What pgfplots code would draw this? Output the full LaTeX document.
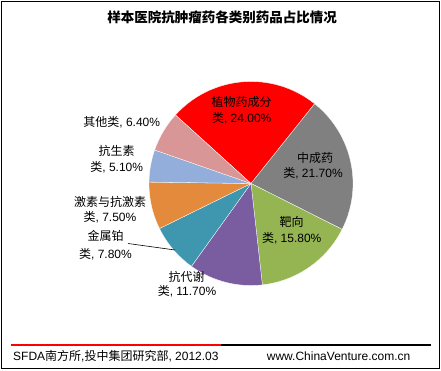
\documentclass[border=0pt]{standalone}
\usepackage{pgfplots}
\pgfplotsset{compat=1.18}
\usepackage{pgfplotstable}
\usepackage{fontspec}
\setmainfont{Liberation Sans}
\newfontfamily\cjk{Noto Sans CJK SC}
\definecolor{pieA}{RGB}{255,0,0}
\definecolor{pieB}{RGB}{128,128,128}
\definecolor{pieC}{RGB}{149,181,82}
\definecolor{pieD}{RGB}{122,92,160}
\definecolor{pieE}{RGB}{62,151,174}
\definecolor{pieF}{RGB}{228,138,60}
\definecolor{pieG}{RGB}{147,174,218}
\definecolor{pieH}{RGB}{217,150,150}
\pgfplotstableread{
value
24.0
21.7
15.8
11.7
7.8
7.5
5.1
6.4
}\piedata
\newcommand{\pieletter}[1]{\ifcase#1 A\or B\or C\or D\or E\or F\or G\or H\fi}
\begin{document}
\begin{tikzpicture}
\begin{axis}[
  x=1pt, y=1pt, xmin=0, xmax=441, ymin=0, ymax=371,
  hide axis, clip=false, scale only axis,
  anchor=origin, at={(0,0)},
]
\path (0,0) rectangle (441,371);
\draw[line width=1pt] (1,2.5) rectangle (439.5,369.5);
% pie
\xdef\startang{137.8}
\foreach \i in {0,...,7}{
  \pgfplotstablegetelem{\i}{value}\of\piedata
  \pgfmathsetmacro{\endang}{\startang-3.6*\pgfplotsretval}
  \edef\temp{\noexpand\fill[pie\pieletter{\i}, draw=white, line width=0.3pt]
    (251,187.5) -- ++(\startang:102pt) arc[start angle=\startang, end angle=\endang, radius=102pt] -- cycle;}
  \temp
  \xdef\startang{\endang}
}
% title
\node[font=\cjk\bfseries\fontsize{13.5}{15}\selectfont] at (222,354) {样本医院抗肿瘤药各类别药品占比情况};
% labels
\tikzset{lab/.style={font=\fontsize{12}{14}\selectfont, text height=9.5pt, text depth=2.5pt, inner sep=0pt}}
\node[lab] at (241.7,268) {\cjk 植物药成分};
\node[lab] at (241.7,252) {{\cjk 类}, 24.00\%};
\node[lab] at (315,212) {\cjk 中成药};
\node[lab] at (313,197) {{\cjk 类}, 21.70\%};
\node[lab] at (291.7,148) {\cjk 靶向};
\node[lab] at (291.7,132) {{\cjk 类}, 15.80\%};
\node[lab] at (186.7,93) {\cjk 抗代谢};
\node[lab] at (187,79) {{\cjk 类}, 11.70\%};
\node[lab] at (121.7,248.3) {{\cjk 其他类}, 6.40\%};
\node[lab] at (116.7,219.3) {\cjk 抗生素};
\node[lab] at (116.7,202.7) {{\cjk 类}, 5.10\%};
\node[lab] at (110,167.7) {\cjk 激素与抗激素};
\node[lab] at (110,152.7) {{\cjk 类}, 7.50\%};
\node[lab] at (105.5,134.3) {\cjk 金属铂};
\node[lab] at (105.5,116) {{\cjk 类}, 7.80\%};
\draw[line width=0.6pt] (128,127.5) -- (175,121);
% footer
\draw[red, line width=1.5pt] (11,26) -- (221,26);
\draw[black, line width=1.5pt] (221,26) -- (431,26);
\node[lab, anchor=west] at (13,14) {SFDA{\cjk 南方所},{\cjk 投中集团研究部}, 2012.03};
\node[lab, anchor=west] at (266.7,14) {www.ChinaVenture.com.cn};
\end{axis}
\end{tikzpicture}
\end{document}
